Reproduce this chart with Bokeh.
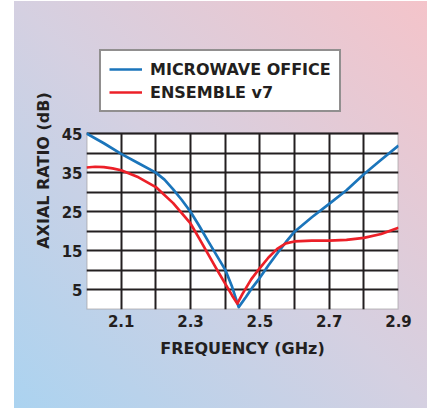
from bokeh.plotting import figure
from bokeh.models import Range1d, FixedTicker, Legend, LegendItem, BoxAnnotation
from bokeh.embed import file_html
from bokeh.resources import INLINE

# ---- data ----
mwo_freq = [2.0, 2.05, 2.1, 2.15, 2.2, 2.225, 2.25, 2.275, 2.3, 2.325, 2.35, 2.375,
            2.4, 2.42, 2.439, 2.46, 2.48, 2.5, 2.525, 2.55, 2.575, 2.6, 2.65, 2.7,
            2.75, 2.8, 2.85, 2.9]
mwo_ar = [45.0, 42.5, 39.8, 37.4, 35.0, 33.2, 30.7, 28.0, 25.0, 21.4, 17.6, 13.9,
          10.2, 5.8, 0.6, 3.2, 5.8, 8.1, 11.3, 14.3, 17.2, 19.9, 23.6, 27.0,
          30.5, 34.6, 38.3, 41.9]

ens_freq = [2.0, 2.025, 2.05, 2.075, 2.1, 2.15, 2.2, 2.25, 2.3, 2.325, 2.35, 2.375,
            2.4, 2.42, 2.435, 2.45, 2.475, 2.5, 2.525, 2.55, 2.575, 2.6, 2.65, 2.7,
            2.75, 2.8, 2.85, 2.9]
ens_ar = [36.3, 36.5, 36.4, 36.1, 35.6, 33.8, 31.3, 27.2, 22.0, 18.2, 14.3, 10.4,
          6.6, 3.6, 1.5, 4.0, 7.7, 10.6, 13.3, 15.5, 16.9, 17.4, 17.6, 17.6,
          17.8, 18.3, 19.3, 20.9]

x_ticks = [2.1, 2.3, 2.5, 2.7, 2.9]
y_ticks = [5, 15, 25, 35, 45]
x_grid = [2.0, 2.1, 2.2, 2.3, 2.4, 2.5, 2.6, 2.7, 2.8, 2.9]
y_grid = [0, 5, 10, 15, 20, 25, 30, 35, 40, 45]
series_names = ["MICROWAVE OFFICE", "ENSEMBLE v7"]

FONT = "DejaVu Sans"
INK = "#231f20"
BLUE = "#1b75bb"
RED = "#ec2028"

W, H = 413, 407
BORDER_BOTTOM = 99
# plot area (0..45 dB) occupies 176 px of a 278 px frame; the space above holds the legend
FRAME_H = 278
PLOT_H = 176
y_top = y_grid[-1] * FRAME_H / PLOT_H

p = figure(width=W, height=H, output_backend="svg", toolbar_location=None,
           title=None,
           x_range=Range1d(x_grid[0], x_grid[-1]), y_range=Range1d(y_grid[0], y_top),
           min_border_left=72, min_border_right=29, min_border_top=H - BORDER_BOTTOM - FRAME_H,
           min_border_bottom=BORDER_BOTTOM)
p.styles = {"background-image": "linear-gradient(to top right, #abd3f0 0%, #d5d0e1 50%, #f4c4ca 100%)",
            "margin-left": "14px", "margin-top": "1px"}
p.border_fill_alpha = 0
p.background_fill_alpha = 0
p.outline_line_color = None

# white plotting panel with black border
panel = BoxAnnotation(top=y_grid[-1], fill_color="white", fill_alpha=1,
                      line_color=INK, line_width=2, level="image")
p.add_layout(panel)

r1 = p.line(mwo_freq, mwo_ar, line_color=BLUE, line_width=2.7, line_join="round")
r2 = p.line(ens_freq, ens_ar, line_color=RED, line_width=2.7, line_join="round")

for ax in (p.xaxis[0], p.yaxis[0]):
    ax.axis_line_color = None
    ax.major_tick_line_color = None
    ax.minor_tick_line_color = None
    ax.major_tick_in = 0
    ax.major_tick_out = 0
    ax.major_label_text_font = FONT
    ax.major_label_text_font_style = "bold"
    ax.major_label_text_font_size = "15px"
    ax.major_label_text_color = INK
    ax.axis_label_text_font = FONT
    ax.axis_label_text_font_style = "bold"
    ax.axis_label_text_font_size = "16px"
    ax.axis_label_text_color = INK

p.xaxis.ticker = FixedTicker(ticks=x_ticks)
p.yaxis.ticker = FixedTicker(ticks=y_ticks)
p.yaxis.bounds = (y_grid[0], y_grid[-1])
p.xaxis.major_label_overrides = {t: f"{t:.1f}" for t in x_ticks}
p.xaxis.major_label_standoff = 5
p.yaxis.major_label_standoff = 4
p.xaxis.axis_label = "FREQUENCY (GHz)"
p.yaxis.axis_label = "AXIAL RATIO (dB)"
p.xaxis.axis_label_standoff = 9
p.yaxis.axis_label_standoff = 6

p.ygrid.ticker = FixedTicker(ticks=y_grid)
g = p.ygrid[0]
g.grid_line_color = INK
g.grid_line_width = 2
g.grid_line_alpha = 1

p.xgrid.ticker = FixedTicker(ticks=x_grid)
gx = p.xgrid[0]
gx.grid_line_color = INK
gx.grid_line_width = 2
gx.grid_line_alpha = 1
try:
    gx.cross_bounds = (y_grid[0], y_grid[-1])
except Exception:
    gx.visible = False
    p.segment(x0=x_grid, y0=[y_grid[0]] * len(x_grid), x1=x_grid,
              y1=[y_grid[-1]] * len(x_grid), line_color=INK, line_width=2,
              level="underlay")

legend = Legend(items=[LegendItem(label=series_names[0], renderers=[r1]),
                       LegendItem(label=series_names[1], renderers=[r2])],
                location=(13, 197), margin=0, padding=8)
legend.glyph_width = 33
legend.glyph_height = 20
legend.label_height = 20
legend.spacing = 3
legend.label_standoff = 8
legend.label_text_font = FONT
legend.label_text_font_style = "bold"
legend.label_text_font_size = "16px"
legend.label_text_color = INK
legend.border_line_color = INK
legend.border_line_width = 2
legend.background_fill_color = "white"
legend.background_fill_alpha = 1
p.add_layout(legend, "center")

open("out.html", "w").write(file_html(p, INLINE))
